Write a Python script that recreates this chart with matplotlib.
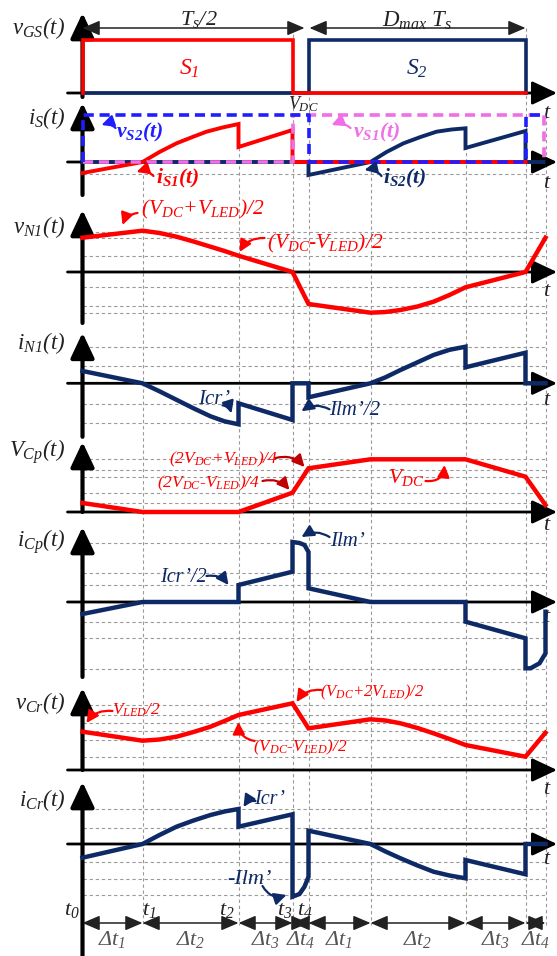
import matplotlib
matplotlib.use("Agg")
import matplotlib.pyplot as plt

plt.rcParams["font.family"] = ["Liberation Serif", "DejaVu Serif"]
plt.rcParams["mathtext.fontset"] = "custom"
plt.rcParams["mathtext.rm"] = "Liberation Serif:italic"
plt.rcParams["mathtext.it"] = "Liberation Serif:italic"
plt.rcParams["mathtext.bf"] = "Liberation Serif:italic:bold"

W, H = 557, 956
X0 = 82.5          # pixel column of the t0 axis

RED = "#ff0000"
DARKRED = "#c00000"
NAVY = "#0e2a66"
BLUE = "#1e1eff"
PINK = "#f06ee6"
GRID = "#9a9a9a"

# ---------------------------------------------------------
# DATA (time in arbitrary units, t0 = 0)
# ---------------------------------------------------------
t_marks = [0, 60, 156, 210, 226, 288, 383, 443, 463]
t_names = ["$t_0$", "$t_1$", "$t_2$", "$t_3$", "$t_4$"]
dt_names = [r"$\Delta t_1$", r"$\Delta t_2$", r"$\Delta t_3$", r"$\Delta t_4$",
            r"$\Delta t_1$", r"$\Delta t_2$", r"$\Delta t_3$", r"$\Delta t_4$"]

# gate signals
s1_t = [0, 0, 210, 210, 443]
s1_v = [0, 53, 53, 0, 0]
s2_t = [0, 226, 226, 443, 443]
s2_v = [0, 0, 53, 53, 0]

# switch currents / voltages
is1_t = [0, 60, 77, 94, 110, 124, 140, 156, 156, 210, 210, 443]
is1_v = [-11, 0, 10, 18.7, 25, 30.3, 34.5, 38, 15, 32, 0, 0]
is2_t = [0, 226, 226, 288, 304, 321, 338, 354, 369, 383, 383, 443, 443, 461]
is2_v = [0, 0, -13, 0, 10, 18.7, 25, 30.3, 32.5, 33.7, 14, 31, 0, 0]
vs2_t = [0, 0, 226, 226, 443, 443, 458]
vs2_v = [0, 47, 47, 0, 0, 47, 47]
vs1_t = [0, 210, 210, 461, 461]
vs1_v = [0, 0, 47, 47, 0]

# transformer primary
vn1_t = [0, 60, 77, 94, 111, 128, 142, 156, 210, 226,
         288, 303, 318, 335, 351, 367, 383, 443, 463]
vn1_v = [34.3, 41.3, 39, 35.3, 30.5, 25.3, 21, 16.3, 0, -32,
         -40.7, -40, -38, -34.5, -29.7, -23, -15.3, 0, 34.3]
in1_t = [0, 60, 77, 94, 111, 128, 142, 156, 156, 210, 210, 226, 226,
         288, 303, 318, 335, 351, 367, 383, 383, 443, 443, 463]
in1_v = [12.3, 0, -8, -16.5, -25, -33, -38, -41, -20, -36.7, 0, 0, -14,
         0, 6, 13.3, 21, 28.3, 33.5, 36.6, 16, 30.6, 0, 0]

# parallel capacitor
vcp_t = [0, 60, 156, 210, 226, 288, 383, 443, 463]
vcp_v = [9, 0, 0, 19.3, 43.7, 52.7, 52.7, 35.3, 7]
icp_t = [0, 60, 156, 156, 210, 210, 217, 222, 226, 226, 288, 383, 383,
         443, 443, 448, 457, 463, 463]
icp_v = [-12, 0, 0, 17, 30.3, 60, 59, 57, 50, 13.7, 0, 0, -19.7,
         -36.3, -66.3, -66.3, -61.3, -51.3, -9.7]

# resonant capacitor
vcr_t = [0, 60, 77, 94, 111, 128, 142, 156, 210, 226,
         288, 303, 318, 335, 351, 367, 383, 443, 463]
vcr_v = [38.3, 29.3, 30.5, 33.3, 38, 43.3, 49, 55, 66.7, 41.7,
         50.7, 49.5, 46.7, 42, 36.7, 31, 25, 13.3, 37.3]
icr_t = [0, 60, 77, 94, 111, 128, 142, 156, 156, 210, 210, 217, 222, 226, 226,
         288, 303, 318, 335, 351, 367, 383, 383, 443, 443, 463]
icr_v = [-13.7, 0, 9, 17.3, 23.5, 29, 32.5, 35, 17.3, 29.7, -52.7, -50, -42.7, -32.7, 13.3,
         0, -7.5, -14.3, -21.5, -27.7, -31.5, -34.3, -16, -30.3, 0, 0]

fig = plt.figure(figsize=(W / 100, H / 100), dpi=100)
fig.patch.set_facecolor("white")

# ---------------------------------------------------------
# HELPERS
# ---------------------------------------------------------
def panel(top, bottom, zero):
    ax = fig.add_axes([0, 1 - bottom / H, 1, (bottom - top) / H])
    ax.set_xlim(-X0, W - X0)
    ax.set_ylim(zero - bottom, zero - top)
    ax.axis("off")
    return ax


def frame(ax, ybot, ytop, levels, label, label_y, t_y):
    for g in levels:
        ax.plot([0, t_marks[-1]], [g, g], color=GRID, lw=0.8,
                ls=(0, (3, 2.5)), clip_on=False, zorder=1)
    head = "-|>,head_length=0.7,head_width=0.33"
    ax.annotate("", xy=(W - X0, 0), xytext=(-15, 0), annotation_clip=False,
                arrowprops=dict(arrowstyle=head, lw=2, color="k", mutation_scale=22,
                                shrinkA=0, shrinkB=0), zorder=2)
    ax.annotate("", xy=(0, ytop), xytext=(0, ybot), annotation_clip=False,
                arrowprops=dict(arrowstyle=head, lw=3, color="k", mutation_scale=22,
                                shrinkA=0, shrinkB=0), zorder=2)
    ax.text(-17, label_y, label, ha="right", va="center", fontsize=16.5, color="#222")
    ax.text(465, t_y, "$t$", ha="center", va="center", fontsize=16, color="#222")


def wave(ax, t, v, color, lw=3.2, **kw):
    ax.plot(t, v, color=color, lw=lw, solid_joinstyle="miter",
            clip_on=False, zorder=4, **kw)


def note(ax, text, xy, head, tail, color, arrow_color=None, rad=0.3,
         size=15, **kw):
    ax.text(xy[0], xy[1], text, ha="center", va="center", color=color,
            fontsize=size, style="italic", zorder=6, **kw)
    ax.annotate("", xy=head, xytext=tail, annotation_clip=False,
                arrowprops=dict(arrowstyle="-|>,head_length=0.6,head_width=0.3",
                                lw=1.6, color=arrow_color or color,
                                mutation_scale=12, shrinkA=0, shrinkB=0,
                                connectionstyle=f"arc3,rad={rad}"), zorder=6)


def dim(ax, x1, x2, y):
    ax.annotate("", xy=(x2, y), xytext=(x1, y), annotation_clip=False,
                arrowprops=dict(arrowstyle="<|-|>,head_length=0.7,head_width=0.3",
                                lw=1.1, color="#222", mutation_scale=15,
                                shrinkA=0, shrinkB=0))


# ---------------------------------------------------------
# BACKGROUND: vertical dotted time grid
# ---------------------------------------------------------
canvas = fig.add_axes([0, 0, 1, 1])
canvas.set_xlim(-X0, W - X0)
canvas.set_ylim(H, 0)
canvas.axis("off")
grid_start = [175, 123, 28, 97, 165, 128, 28, 115]
for tm, y0 in zip(t_marks[1:], grid_start):
    canvas.plot([tm, tm], [y0, 925], color=GRID, lw=0.8, ls=(0, (3, 2.5)), zorder=1)

# ---------------------------------------------------------
# vGS
# ---------------------------------------------------------
ax = panel(0, 98, 93)
frame(ax, -4, 80, [], "$v_{GS}(t)$", 65, -20)
wave(ax, s2_t, s2_v, NAVY, lw=2.6)
wave(ax, s1_t, s1_v, RED, lw=2.6)
dim(ax, 0, 222, 65)
dim(ax, 227, 443, 65)
ax.text(116, 73, "$T_s/2$", ha="center", va="center", fontsize=16, color="#222")
ax.text(334, 72, "$D_{max}\\ T_s$", ha="center", va="center", fontsize=16.5, color="#222")
ax.text(107, 24, "$S_1$", ha="center", va="center", fontsize=17, color=RED)
ax.text(334, 24, "$S_2$", ha="center", va="center", fontsize=17, color=NAVY)
ax.text(221, -11, "$V_{DC}$", ha="center", va="center", fontsize=13, color="#222")

# ---------------------------------------------------------
# iS
# ---------------------------------------------------------
ax = panel(98, 198, 162)
frame(ax, -33, 59, [-11.5], "$i_S(t)$", 44, -21)
wave(ax, is2_t, is2_v, NAVY, lw=2.8)
wave(ax, is1_t, is1_v, RED, lw=2.8)
wave(ax, vs1_t, vs1_v, PINK, lw=2.6, ls=(0, (2.8, 1.6)))
wave(ax, vs2_t, vs2_v, BLUE, lw=2.6, ls=(0, (2.8, 1.6)))
note(ax, r"$\mathbf{v_{S2}(t)}$", (57, 30), (19, 37), (33, 34), BLUE, size=15.5)
note(ax, r"$\mathbf{i_{S1}(t)}$", (95, -16), (54, -10), (71, -14), RED, size=15.5)
note(ax, r"$\mathbf{v_{S1}(t)}$", (294, 30), (249, 37), (268, 34), PINK, size=15.5)
note(ax, r"$\mathbf{i_{S2}(t)}$", (322, -16), (282, -8), (299, -14), NAVY, size=15.5)

# ---------------------------------------------------------
# vN1
# ---------------------------------------------------------
ax = panel(198, 328, 272)
frame(ax, -51, 62, [40.3, 34, 16.3, -14.7, -34, -41.3], "$v_{N1}(t)$", 45, -20)
wave(ax, vn1_t, vn1_v, RED)
note(ax, "$(V_{DC}{+}V_{LED})/2$", (120, 63), (40, 47), (55, 59), RED, size=15.5)
note(ax, "$(V_{DC}$-$V_{LED})/2$", (243, 29), (157, 20), (182, 34), RED, size=15.5)

# ---------------------------------------------------------
# iN1
# ---------------------------------------------------------
ax = panel(328, 440, 383.3)
frame(ax, -53.5, 50.5, [36.6, 17.3, -21, -40], "$i_{N1}(t)$", 40, -17)
wave(ax, in1_t, in1_v, NAVY)
note(ax, "Icr’", (132, -16), (149, -30), (140, -22), NAVY, rad=-0.3, size=15)
note(ax, "Ilm’/2", (272, -27), (219, -28), (247, -26), NAVY, size=15)

# ---------------------------------------------------------
# VCp
# ---------------------------------------------------------
ax = panel(440, 520, 512)
frame(ax, 0, 70, [52.7, 42, 34.7, 19.3, 8.7], "$V_{Cp}(t)$", 60, -13)
wave(ax, vcp_t, vcp_v, RED)
note(ax, "$(2V_{DC}{+}V_{LED})/4$", (141, 53), (222, 45), (193, 54), RED, DARKRED,
     rad=-0.3, size=12.5)
note(ax, "$(2V_{DC}$-$V_{LED})/4$", (126, 29), (207, 22), (180, 31), RED, DARKRED,
     rad=-0.3, size=12.5)
note(ax, "$V_{DC}$", (324, 34), (362, 47), (343, 31), RED, rad=0.5, size=15.5)

# ---------------------------------------------------------
# iCp
# ---------------------------------------------------------
ax = panel(520, 680, 602)
frame(ax, -75, 75, [58.7, 29.3, 17, -19.7, -36.3, -67.3], "$i_{Cp}(t)$", 60, -15)
wave(ax, icp_t, icp_v, NAVY)
note(ax, "Ilm’", (265, 60), (219, 65), (247, 65), NAVY, size=15)
note(ax, "Icr’/2", (101, 25), (146, 17), (124, 26), NAVY, rad=-0.3, size=14.5)

# ---------------------------------------------------------
# vCr
# ---------------------------------------------------------
ax = panel(680, 775, 770)
frame(ax, 0, 82, [65, 55, 47, 39, 30, 13], "$v_{Cr}(t)$", 67, -20)
wave(ax, vcr_t, vcr_v, RED)
note(ax, "$(V_{DC}{+}2V_{LED})/2$", (290, 78), (214, 68), (239, 80), RED, size=12)
note(ax, "$V_{LED}/2$", (54, 60), (4, 47), (30, 59), RED, size=12.5)
note(ax, "$(V_{DC}$-$V_{LED})/2$", (218, 23), (156, 48), (172, 29), RED, rad=-0.4, size=12.5)

# ---------------------------------------------------------
# iCr + time axis
# ---------------------------------------------------------
ax = panel(775, 956, 844)
frame(ax, -112, 62, [34.7, 16.3, -17.7, -35, -51], "$i_{Cr}(t)$", 44, -16)
wave(ax, icr_t, icr_v, NAVY)
note(ax, "Icr’", (187, 44), (161, 37), (173, 43), NAVY, size=14.5)
note(ax, "-Ilm’", (167, -36), (204, -51), (180, -42), NAVY, rad=0.4, size=16)

for i, (a, b) in enumerate(zip(t_marks[:-1], t_marks[1:])):
    dim(ax, a, b, -79)
    ax.text((a + b) / 2, -96, dt_names[i], ha="center", va="center",
            fontsize=16, color="#555")
name_x = [-11, 67, 144, 202, 222]
for x, name in zip(name_x, t_names):
    ax.text(x, -66, name, ha="center", va="center", fontsize=16, color="#222")

fig.savefig("out.png", dpi=100, facecolor="white")
